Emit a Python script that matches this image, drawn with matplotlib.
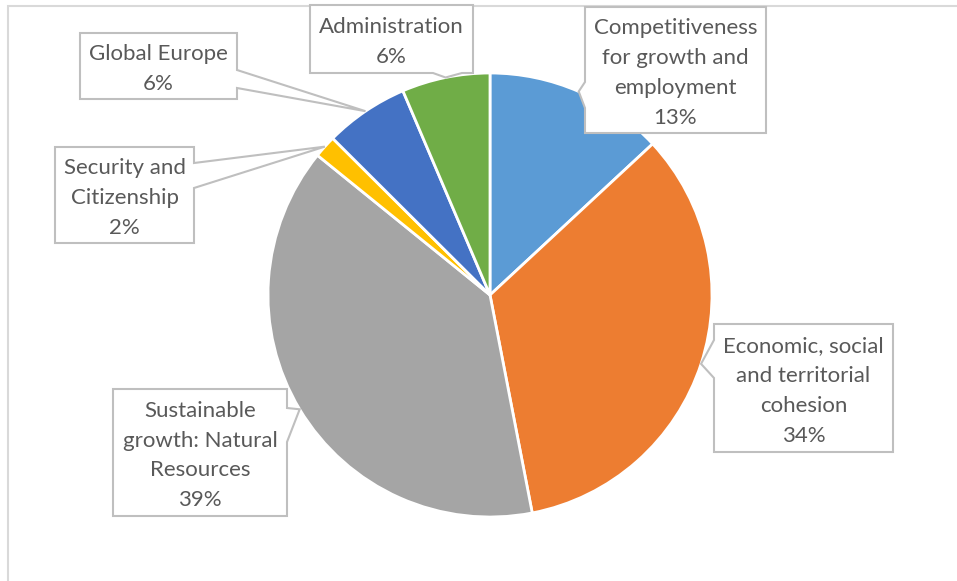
import numpy as np
import matplotlib
matplotlib.use('Agg')
import matplotlib.pyplot as plt
from matplotlib.patches import Polygon, Rectangle

# EU budget 2014-2020 headings (bn EUR)
categories = ['Competitiveness\nfor growth and\nemployment',
              'Economic, social\nand territorial\ncohesion',
              'Sustainable\ngrowth: Natural\nResources',
              'Security and\nCitizenship',
              'Global Europe',
              'Administration']
values = [125.6, 325.1, 373.2, 15.7, 58.7, 61.6]
colors = ['#5B9BD5', '#ED7D31', '#A5A5A5', '#FFC000', '#4472C4', '#70AD47']

W, H = 957, 581
CX, CY, R = 490, 295, 222   # pie centre / radius, pixels from top-left

# callout boxes: (x0, y0, x1, y1) top-down pixels, side of pointer, base span on that side
boxes = [
    ((585, 7, 766, 133), 'left', (82, 108)),
    ((714, 324, 893, 452), 'left', (340, 378)),
    ((113, 389, 287, 516), 'right', (408, 442)),
    ((55, 147, 194, 243), 'right', (163, 188)),
    ((80, 33, 237, 99), 'right', (70, 88)),
    ((310, 5, 473, 73), 'bottom', (433, 462)),
]

plt.rcParams['font.family'] = ['Lato', 'DejaVu Sans']

fig = plt.figure(figsize=(W / 100, H / 100), dpi=100)
ax = fig.add_axes([0, 0, 1, 1])


def fy(y):
    return H - y


ax.pie(values, colors=colors, startangle=90, counterclock=False,
       center=(CX, fy(CY)), radius=R, frame=True,
       wedgeprops=dict(edgecolor='white', linewidth=2))
ax.set_xlim(0, W)
ax.set_ylim(0, H)
ax.set_aspect('equal')
ax.axis('off')

# chart-area frame (right and bottom cut off)
ax.add_patch(Rectangle((8, fy(H + 10)), W + 20, H + 10 - 6, fill=False,
                       edgecolor='#D9D9D9', linewidth=1.5, zorder=0))

total = sum(values)
cum = np.cumsum(values) - np.array(values) / 2
pcts = [v / total * 100 for v in values]

for i, ((x0, y0, x1, y1), side, (a, b)) in enumerate(boxes):
    ang = np.deg2rad(90 - 360 * cum[i] / total)
    tx, ty = CX + R * np.cos(ang), fy(CY) + R * np.sin(ang)
    Y0, Y1 = fy(y0), fy(y1)
    tl, tr, br, bl = (x0, Y0), (x1, Y0), (x1, Y1), (x0, Y1)
    if side == 'right':
        pts = [tl, tr, (x1, fy(a)), (tx, ty), (x1, fy(b)), br, bl]
    elif side == 'left':
        pts = [tl, tr, br, bl, (x0, fy(b)), (tx, ty), (x0, fy(a))]
    else:  # bottom
        pts = [tl, tr, br, (b, Y1), (tx, ty), (a, Y1), bl]
    ax.add_patch(Polygon(pts, closed=True, facecolor='white',
                         edgecolor='#BFBFBF', linewidth=1.5, zorder=3))
    ax.text((x0 + x1) / 2, (Y0 + Y1) / 2 - 3,
            f'{categories[i]}\n{pcts[i]:.0f}%',
            ha='center', va='center', fontsize=16, color='#595959',
            linespacing=1.62, zorder=4)

fig.savefig('out.png', dpi=100, facecolor='white')
